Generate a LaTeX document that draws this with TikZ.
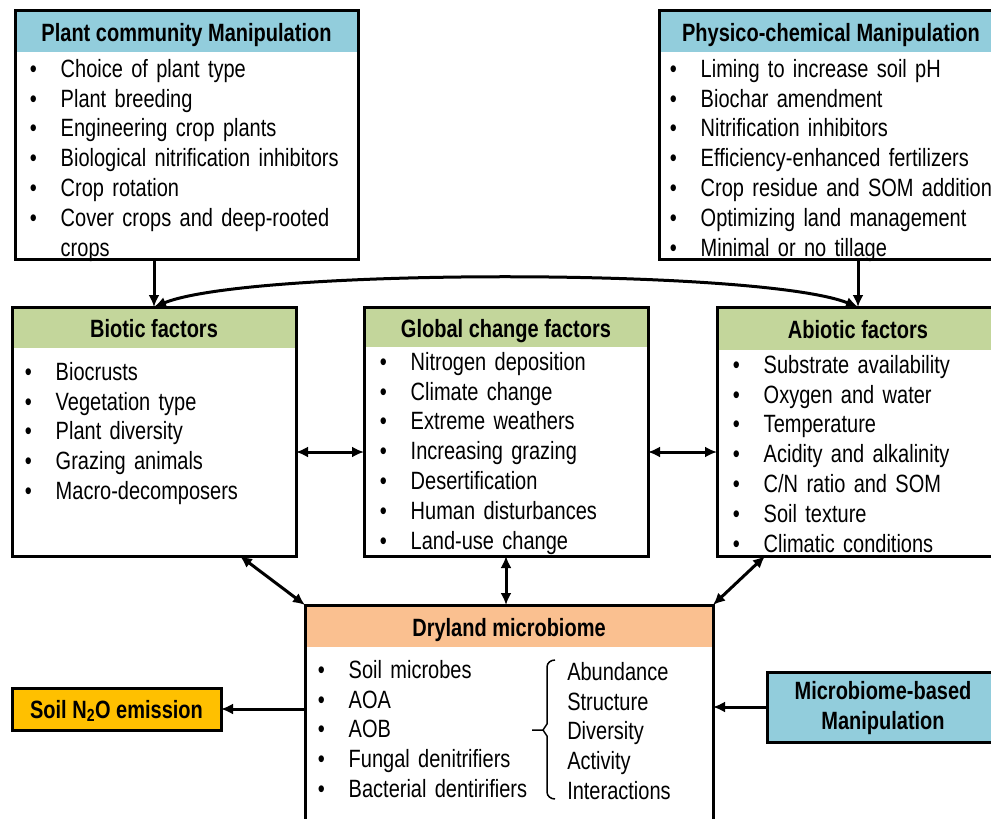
\documentclass[tikz,border=0pt]{standalone}
\usepackage{fontspec}
\setmainfont{Liberation Sans}[FakeStretch=0.80,
  UprightFeatures={WordSpace=0.65}, BoldFeatures={WordSpace=1}]
\usetikzlibrary{arrows.meta}
\definecolor{hdblue}{HTML}{92CDDC}
\definecolor{hdgreen}{HTML}{C3D69B}
\definecolor{hdpeach}{HTML}{FAC090}
\definecolor{hdgold}{HTML}{FFC000}
\newcommand{\figfont}{\fontsize{25pt}{29.8pt}\selectfont}
\newcommand{\bitem}{\strut\makebox[31pt][l]{\textbullet}}
\tikzset{every picture/.style={line width=2.5pt}}
\tikzset{
  fdbox/.style  ={draw=black, line width=3pt, inner sep=0pt, outer sep=0pt, anchor=north west},
  fdhead/.style ={fill=#1, inner sep=0pt, outer sep=0pt, anchor=north west,
                  text height=20pt, text depth=0pt, font=\figfont\bfseries},
  fdlist/.style ={inner sep=0pt, anchor=north west, text width=330pt, align=left},
  fdarr/.style  ={-{Latex[length=12pt,width=11pt]}, line width=3pt},
  fdboth/.style ={{Latex[length=12pt,width=11pt]}-{Latex[length=12pt,width=11pt]}, line width=3pt},
  fdbrace/.style={line width=1.5pt},
}
\begin{document}
\begin{tikzpicture}[x=1pt, y=-1pt, font=\figfont]
    \useasboundingbox (0,0) rectangle (991,819);
    \clip (0,0) rectangle (991,819);
    % header bands
    \node[fdhead=hdblue, minimum width=343pt, minimum height=42pt] (plantH) at (15,10) {Plant community Manipulation};
    \node[fdhead=hdblue, minimum width=344pt, minimum height=42pt] (physH) at (659,10) {Physico-chemical Manipulation};
    \node[fdhead=hdgreen, minimum width=284pt, minimum height=41pt] (bioH) at (12,307) {Biotic factors};
    \node[fdhead=hdgreen, minimum width=284pt, minimum height=40pt] (globH) at (364,307) {Global change factors};
    \node[fdhead=hdgreen, minimum width=282pt, minimum height=43pt] (abioH) at (717,307) {Abiotic factors};
    \node[fdhead=hdpeach, minimum width=408pt, minimum height=42pt] (dryH) at (305,605) {Dryland microbiome};
    % frames
    \node[fdbox, minimum width=343pt, minimum height=249pt] (plant) at (15,10) {};
    \node[fdbox, minimum width=344pt, minimum height=249pt] (phys) at (659,10) {};
    \node[fdbox, minimum width=284pt, minimum height=249pt] (bio) at (12,307) {};
    \node[fdbox, minimum width=284pt, minimum height=249pt] (glob) at (364,307) {};
    \node[fdbox, minimum width=282pt, minimum height=249pt] (abio) at (717,307) {};
    \node[fdbox, minimum width=408pt, minimum height=240pt] (dry) at (305,605) {};
    \node[fdbox, fill=hdgold, minimum width=209pt, minimum height=42pt,
          text height=18pt, text depth=0pt, font=\figfont\bfseries] (nox) at (12,688) {Soil N\textsubscript{2}O emission};
    \node[fdbox, fill=hdblue, minimum width=232pt, minimum height=70pt, text width=232pt,
          align=center, font=\figfont\bfseries] (mbm) at (767,672) {\strut Microbiome-based\\ Manipulation};
    % lists
    \node[fdlist] (plantL) at (28.5,55.1) {\bitem Choice of plant type\\ \bitem Plant breeding\\
        \bitem Engineering crop plants\\ \bitem Biological nitrification inhibitors\\
        \bitem Crop rotation\\ \bitem Cover crops and deep-rooted\\ \strut\hspace*{31pt}crops};
    \node[fdlist] (physL) at (668.5,55.1) {\bitem Liming to increase soil pH\\ \bitem Biochar amendment\\
        \bitem Nitrification inhibitors\\ \bitem Efficiency-enhanced fertilizers\\
        \bitem Crop residue and SOM addition\\ \bitem Optimizing land management\\
        \bitem Minimal or no tillage};
    \node[fdlist] (bioL) at (23.5,358.1) {\bitem Biocrusts\\ \bitem Vegetation type\\
        \bitem Plant diversity\\ \bitem Grazing animals\\ \bitem Macro-decomposers};
    \node[fdlist] (globL) at (378.5,348.1) {\bitem Nitrogen deposition\\ \bitem Climate change\\
        \bitem Extreme weathers\\ \bitem Increasing grazing\\ \bitem Desertification\\
        \bitem Human disturbances\\ \bitem Land-use change};
    \node[fdlist] (abioL) at (731.5,351.1) {\bitem Substrate availability\\ \bitem Oxygen and water\\
        \bitem Temperature\\ \bitem Acidity and alkalinity\\ \bitem C/N ratio and SOM\\
        \bitem Soil texture\\ \bitem Climatic conditions};
    \node[fdlist] (dryL) at (316.5,656.1) {\bitem Soil microbes\\ \bitem AOA\\ \bitem AOB\\
        \bitem Fungal denitrifiers\\ \bitem Bacterial dentirifiers};
    \node[fdlist, text width=150pt] (dryR) at (566,658.1) {\strut Abundance\\ Structure\\
        Diversity\\ Activity\\ Interactions};
    % brace
    \draw[fdbrace] (555,660) to[out=180,in=90] (547,667) -- (547,724) -- (543,730) -- (532,730)
        (543,730) -- (547,736) -- (547,792) to[out=-90,in=180] (555,799);
    % connectors
    \coordinate (midrow) at (0,452);
    \draw[fdarr] (plant.south -| bio.north) -- (bio.north);
    \draw[fdarr] (phys.south -| abio.north) -- (abio.north);
    \draw[fdboth] (bio.north) .. controls (250,268) and (760,268) .. (abio.north);
    \draw[fdboth] (bio.east |- midrow) -- (glob.west |- midrow);
    \draw[fdboth] (glob.east |- midrow) -- (abio.west |- midrow);
    \draw[fdboth] ([xshift=-56pt]bio.south east) -- (dry.north west);
    \draw[fdboth] (glob.south) -- (glob.south |- dry.north);
    \draw[fdboth] ([xshift=48pt]abio.south west) -- (dry.north east);
    \draw[fdarr] (dry.west |- nox.east) -- (nox.east);
    \draw[fdarr] (mbm.west) -- (mbm.west -| dry.east);
\end{tikzpicture}
\end{document}
